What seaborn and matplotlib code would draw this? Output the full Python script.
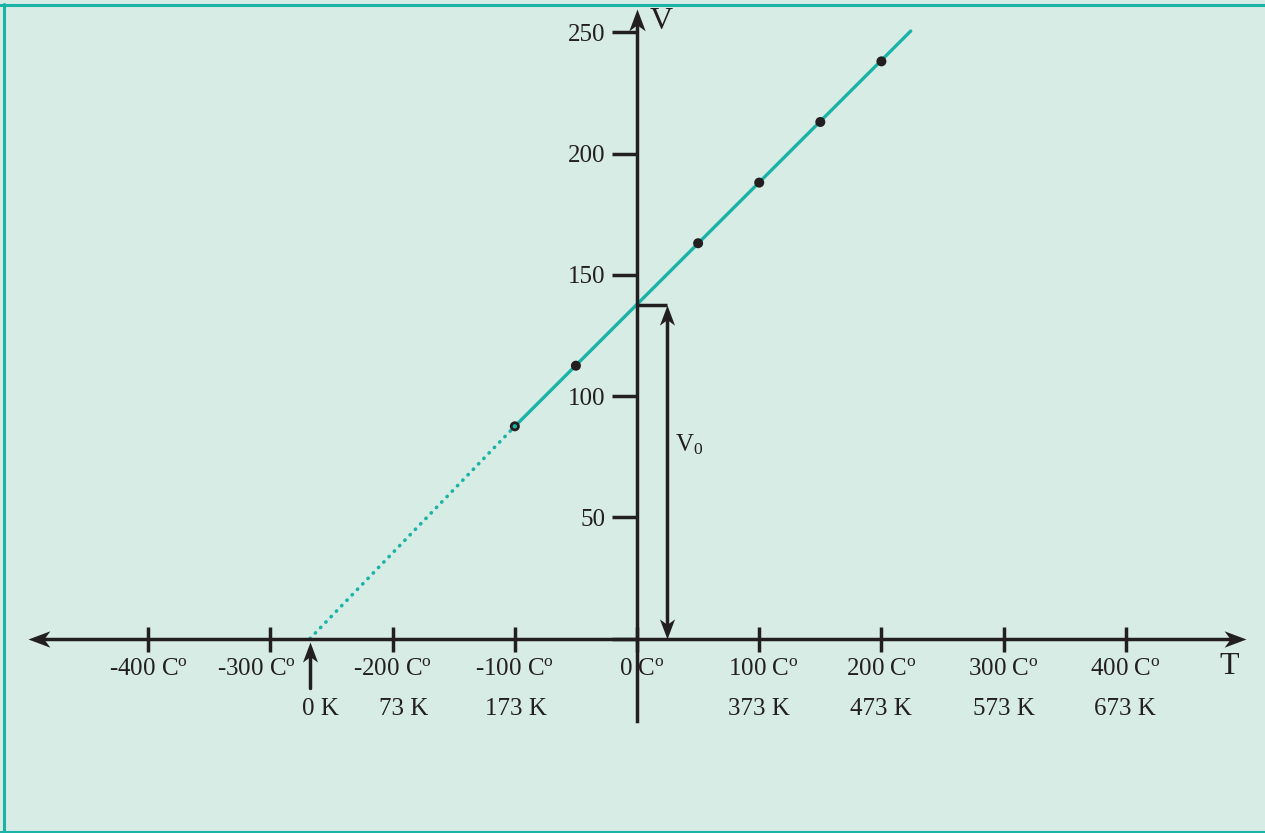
import numpy as np
import matplotlib
matplotlib.use("Agg")
import matplotlib.pyplot as plt
from matplotlib.path import Path
import seaborn as sns

# ------------------------------------------------
# Data
# ------------------------------------------------
temp_pts = [-100, -50, 50, 100, 150, 200]          # deg C
vol_pts = [87.5, 112.5, 163, 188, 213, 238]

line_t = [-100, 224]                               # solid fit line
line_v = [87.5, 250.5]
extrap_t = [-267.6, -100]                          # dotted extrapolation
extrap_v = [0, 87.5]

v0_t = 24.2                                        # V0 marker position
v0_value = 137.4

c_ticks = [-400, -300, -200, -100, 0, 100, 200, 300, 400]
c_labels = ["-400", "-300", "-200", "-100", "0", "100", "200", "300", "400"]
c_shift = [0, -11, 0, 0, 4, 3, 0, 0, 0]

k_pos = [-259, -191, -99, 100, 200, 300, 399]
k_labels = ["0 K", "73 K", "173 K", "373 K", "473 K", "573 K", "673 K"]

v_ticks = [0, 50, 100, 150, 200, 250]
v_labels = ["", "50", "100", "150", "200", "250"]

BG = "#d8ece6"
TEAL = "#1bb3a6"
INK = "#231f20"

sns.set_theme(style="white")
plt.rcParams["font.family"] = ["Liberation Serif", "DejaVu Serif"]
plt.rcParams["mathtext.fontset"] = "custom"
plt.rcParams["mathtext.rm"] = "Liberation Serif"
plt.rcParams["mathtext.it"] = "Liberation Serif:italic"


def head(angle):
    # notched arrow head, tip at the origin
    v = np.array([[0, 0], [-2, 0.75], [-1.45, 0], [-2, -0.75], [0, 0]])
    a = np.deg2rad(angle)
    rot = np.array([[np.cos(a), -np.sin(a)], [np.sin(a), np.cos(a)]])
    return Path(v @ rot.T, [Path.MOVETO, Path.LINETO, Path.LINETO,
                            Path.LINETO, Path.CLOSEPOLY])


fig = plt.figure(figsize=(12.65, 8.33), dpi=100, facecolor=BG)
ax = fig.add_axes([0, 0, 1, 1])
ax.set_facecolor(BG)
ax.set_xlim(-521.3, 513.9)
ax.set_ylim(-80.2, 263.3)

# axes through the origin
for s in ["top", "right"]:
    ax.spines[s].set_visible(False)
ax.spines["left"].set_position(("data", 0))
ax.spines["bottom"].set_position(("data", 0))
ax.spines["left"].set_bounds(-34, 253)
ax.spines["bottom"].set_bounds(-490, 490)
for s in ["left", "bottom"]:
    ax.spines[s].set_color(INK)
    ax.spines[s].set_linewidth(2.5)

ax.set_xticks(c_ticks)
ax.set_xticklabels([])
ax.tick_params(axis="x", direction="inout", length=18, width=2.5,
               color=INK, labelbottom=False, bottom=True)
ax.set_yticks(v_ticks)
ax.set_yticklabels(v_labels)
ax.tick_params(axis="y", direction="out", length=18, width=2.5,
               color=INK, pad=4.5, labelsize=18, labelcolor=INK, left=True)

# arrow heads on the axes
ax.plot(498.4, 0, marker=head(0), ms=31.5, mfc=INK, mew=0, ls="none", clip_on=False)
ax.plot(-498.4, 0, marker=head(180), ms=31.5, mfc=INK, mew=0, ls="none", clip_on=False)
ax.plot(0, 259.5, marker=head(90), ms=31.5, mfc=INK, mew=0, ls="none", clip_on=False)

# data line, extrapolation and points
sns.lineplot(x=line_t, y=line_v, ax=ax, color=TEAL, lw=2.4)
sns.lineplot(x=extrap_t, y=extrap_v, ax=ax, color=TEAL, lw=2.6,
             linestyle=(0, (0.1, 2.0)), dash_capstyle="round")
sns.scatterplot(x=temp_pts, y=vol_pts, ax=ax, color=INK, s=52,
                edgecolor="none", zorder=5)
# first point is drawn as a ring with a teal centre
sns.scatterplot(x=temp_pts[:1], y=vol_pts[:1], ax=ax, color=TEAL, s=10,
                edgecolor="none", zorder=6)

# V0 arrow
ax.plot([0, v0_t], [v0_value, v0_value], color=INK, lw=2.5, solid_capstyle="butt")
ax.plot([v0_t, v0_t], [3, v0_value - 3], color=INK, lw=2.5)
ax.plot(v0_t, v0_value, marker=head(90), ms=29, mfc=INK, mew=0, ls="none")
ax.plot(v0_t, 0, marker=head(-90), ms=29, mfc=INK, mew=0, ls="none")
ax.text(31, 79.8, r"V$_{0}$", fontsize=18, color=INK, ha="left", va="center")

# 0 K arrow
ax.plot([extrap_t[0], extrap_t[0]], [-20.4, -4], color=INK, lw=2.5)
ax.plot(extrap_t[0], -1.3, marker=head(90), ms=29, mfc=INK, mew=0, ls="none")

# temperature labels
for t, lab, dx in zip(c_ticks, c_labels, c_shift):
    ax.text(t + dx, -12.6, lab + r" C$^{\mathrm{o}}$", fontsize=18, color=INK,
            ha="center", va="center")
for t, lab in zip(k_pos, k_labels):
    ax.text(t, -28.9, lab, fontsize=18, color=INK, ha="center", va="center")

ax.text(20, 254.6, "V", fontsize=23, color=INK, ha="center", va="center")
ax.text(485, -11.6, "T", fontsize=23, color=INK, ha="center", va="center")

# teal frame (top, left, bottom)
frame = dict(color=TEAL, lw=2.2, transform=ax.transAxes, clip_on=False)
ax.plot([0, 1], [1 - 4.6 / 833, 1 - 4.6 / 833], **frame)
ax.plot([4 / 1265, 4 / 1265], [0, 1 - 3.5 / 833], **frame)
ax.plot([0, 1], [1.5 / 833, 1.5 / 833], **frame)

fig.savefig("out.png", dpi=100, facecolor=BG)
